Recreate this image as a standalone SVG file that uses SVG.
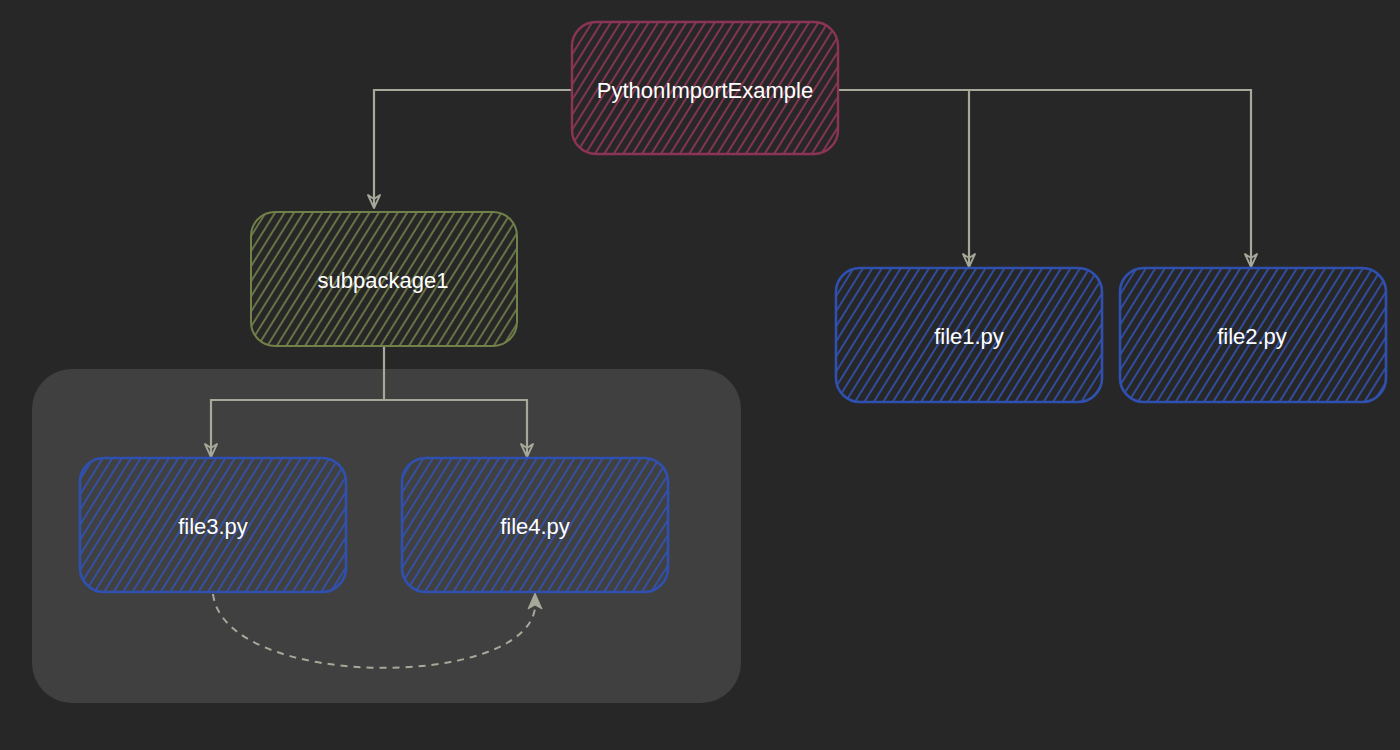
<svg xmlns="http://www.w3.org/2000/svg" width="1400" height="750" viewBox="0 0 1400 750">
  <defs>
    <pattern id="hRed" width="8" height="8" patternUnits="userSpaceOnUse" patternTransform="rotate(32)">
      <line x1="2" y1="0" x2="2" y2="8" stroke="#93365a" stroke-width="1.7"/>
    </pattern>
    <pattern id="hGreen" width="8" height="8" patternUnits="userSpaceOnUse" patternTransform="rotate(32)">
      <line x1="2" y1="0" x2="2" y2="8" stroke="#7c8b4e" stroke-width="1.5"/>
    </pattern>
    <pattern id="hBlue" width="8" height="8" patternUnits="userSpaceOnUse" patternTransform="rotate(32)">
      <line x1="2" y1="0" x2="2" y2="8" stroke="#3152b3" stroke-width="1.7"/>
    </pattern>
    <marker id="openArrow" viewBox="0 0 16 16" refX="15" refY="8" markerWidth="16" markerHeight="16" markerUnits="userSpaceOnUse" orient="auto">
      <path d="M2,2 L15,8 L2,14 L6,8 Z" fill="none" stroke="#a6a99a" stroke-width="1.8" stroke-linejoin="round"/>
    </marker>
  </defs>
  <style>
    .lbl { font-family: "Liberation Sans", Arial, Helvetica, sans-serif; font-size: 22px; fill: #ffffff; text-anchor: middle; }
    .conn { fill: none; stroke: #a6a99a; stroke-width: 2.2; stroke-linejoin: miter; }
    .red { stroke: #8c3456; stroke-width: 2.4; }
    .green { stroke: #72804a; stroke-width: 2; }
    .blue { stroke: #3050b0; stroke-width: 2.6; }
  </style>

  <rect x="0" y="0" width="1400" height="750" fill="#272727"/>

  <g id="subpackage-container">
    <rect x="32" y="369" width="709" height="334" rx="40" ry="40" fill="#404040"/>
  </g>

  <g id="connectors">
    <path class="conn" d="M572,90 L374,90 L374,208" marker-end="url(#openArrow)"/>
    <path class="conn" d="M838,90 L1251,90 L1251,267" marker-end="url(#openArrow)"/>
    <path class="conn" d="M969,90 L969,267" marker-end="url(#openArrow)"/>
    <path class="conn" d="M384,347 L384,400"/>
    <path class="conn" d="M384,400 L211,400 L211,457" marker-end="url(#openArrow)"/>
    <path class="conn" d="M384,400 L527,400 L527,457" marker-end="url(#openArrow)"/>
    <path d="M213,594 C225,690 525,690 535,608" fill="none" stroke="#a6a99a" stroke-width="2" stroke-dasharray="7,6"/>
    <path d="M535,593 L542,609 L535,605 L528,609 Z" fill="#a6a99a" stroke="#a6a99a" stroke-width="1"/>
  </g>

  <g id="node-PythonImportExample">
    <rect x="572" y="22" width="266" height="132" rx="24" ry="24" fill="url(#hRed)" class="red"/>
    <text class="lbl" x="705" y="98">PythonImportExample</text>
  </g>

  <g id="node-subpackage1">
    <rect x="251" y="212" width="266" height="134" rx="24" ry="24" fill="url(#hGreen)" class="green"/>
    <text class="lbl" x="383" y="288">subpackage1</text>
  </g>

  <g id="node-file1">
    <rect x="836" y="268" width="266" height="134" rx="24" ry="24" fill="url(#hBlue)" class="blue"/>
    <text class="lbl" x="969" y="344">file1.py</text>
  </g>

  <g id="node-file2">
    <rect x="1120" y="268" width="266" height="134" rx="24" ry="24" fill="url(#hBlue)" class="blue"/>
    <text class="lbl" x="1252" y="344">file2.py</text>
  </g>

  <g id="node-file3">
    <rect x="80" y="458" width="266" height="134" rx="24" ry="24" fill="url(#hBlue)" class="blue"/>
    <text class="lbl" x="213" y="534">file3.py</text>
  </g>

  <g id="node-file4">
    <rect x="402" y="458" width="266" height="134" rx="24" ry="24" fill="url(#hBlue)" class="blue"/>
    <text class="lbl" x="535" y="534">file4.py</text>
  </g>
</svg>
